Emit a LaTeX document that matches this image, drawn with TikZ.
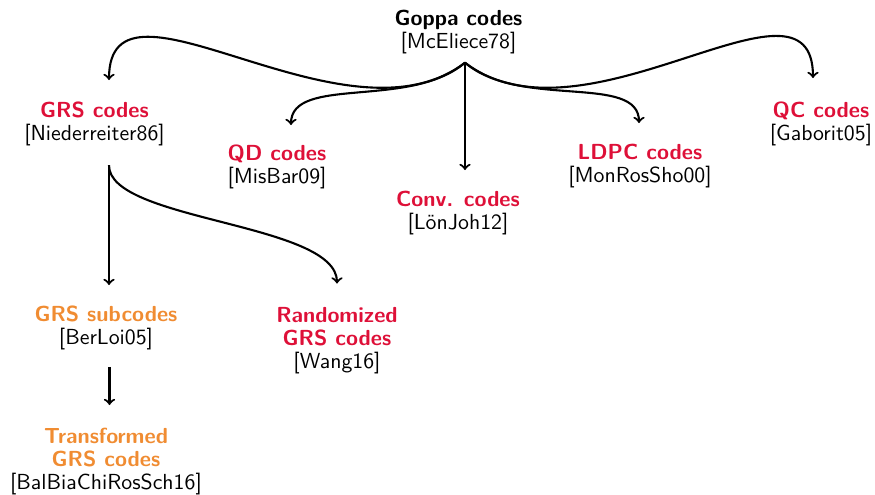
\documentclass[tikz,border=0pt]{standalone}
\usepackage{fontspec}
\usetikzlibrary{calc}
\definecolor{cred}{RGB}{222,16,56}
\definecolor{corange}{RGB}{240,140,50}
\begin{document}
\begin{tikzpicture}[x=0.5pt,y=-0.5pt,
  every node/.style={font=\sffamily\fontsize{10.9}{11.5}\selectfont, align=center, inner sep=0pt, anchor=north},
  conn/.style={->, line width=1.05pt, black}]
\useasboundingbox (0,0) rectangle (875,494);

\node (goppa) at (458.5,10) {\textbf{Goppa codes}\\{[McEliece78]}};
\node (grs) at (94.5,101.5) {\textbf{\color{cred}GRS codes}\\{[Niederreiter86]}};
\node (qd) at (277,144) {\textbf{\color{cred}QD codes}\\{[MisBar09]}};
\node (conv) at (458,191) {\textbf{\color{cred}Conv. codes}\\{[LönJoh12]}};
\node (ldpc) at (640,144) {\textbf{\color{cred}LDPC codes}\\{[MonRosSho00]}};
\node (qc) at (821,101.5) {\textbf{\color{cred}QC codes}\\{[Gaborit05]}};
\node (sub) at (106,305) {\textbf{\color{corange}GRS subcodes}\\{[BerLoi05]}};
\node (rand) at (337,306.5) {\textbf{\color{cred}Randomized}\\\textbf{\color{cred}GRS codes}\\{[Wang16]}};
\node (trans) at (106,428) {\textbf{\color{corange}Transformed}\\\textbf{\color{corange}GRS codes}\\{[BalBiaChiRosSch16]}};

\coordinate (src) at ($(goppa.south)+(6.5,8)$);
\coordinate (grsout) at ($(grs.south)+(14.5,19)$);
\coordinate (subout) at ($(sub.south)+(3.5,17)$);

\draw[conn] (src) .. controls +(-120,92) and +(0,-125) .. ($(grs.north)+(14.5,-21.5)$);
\draw[conn] (src) .. controls +(120,92) and +(0,-123) .. ($(qc.north)+(-8,-23.5)$);
\draw[conn] (src) .. controls +(-55,47) and +(0,-50) .. ($(qd.north)+(14,-19)$);
\draw[conn] (src) .. controls +(55,47) and +(0,-50) .. ($(ldpc.north)+(-1,-21)$);
\draw[conn] (src) -- ($(conv.north)+(7,-21)$);

\draw[conn] (grsout) -- ($(sub.north)+(3,-20)$);
\draw[conn] (grsout) .. controls +(0,56) and +(0,-61) .. ($(rand.north)+(0,-23)$);
\draw[conn] (subout) -- ($(trans.north)+(3.5,-23)$);
\end{tikzpicture}
\end{document}
